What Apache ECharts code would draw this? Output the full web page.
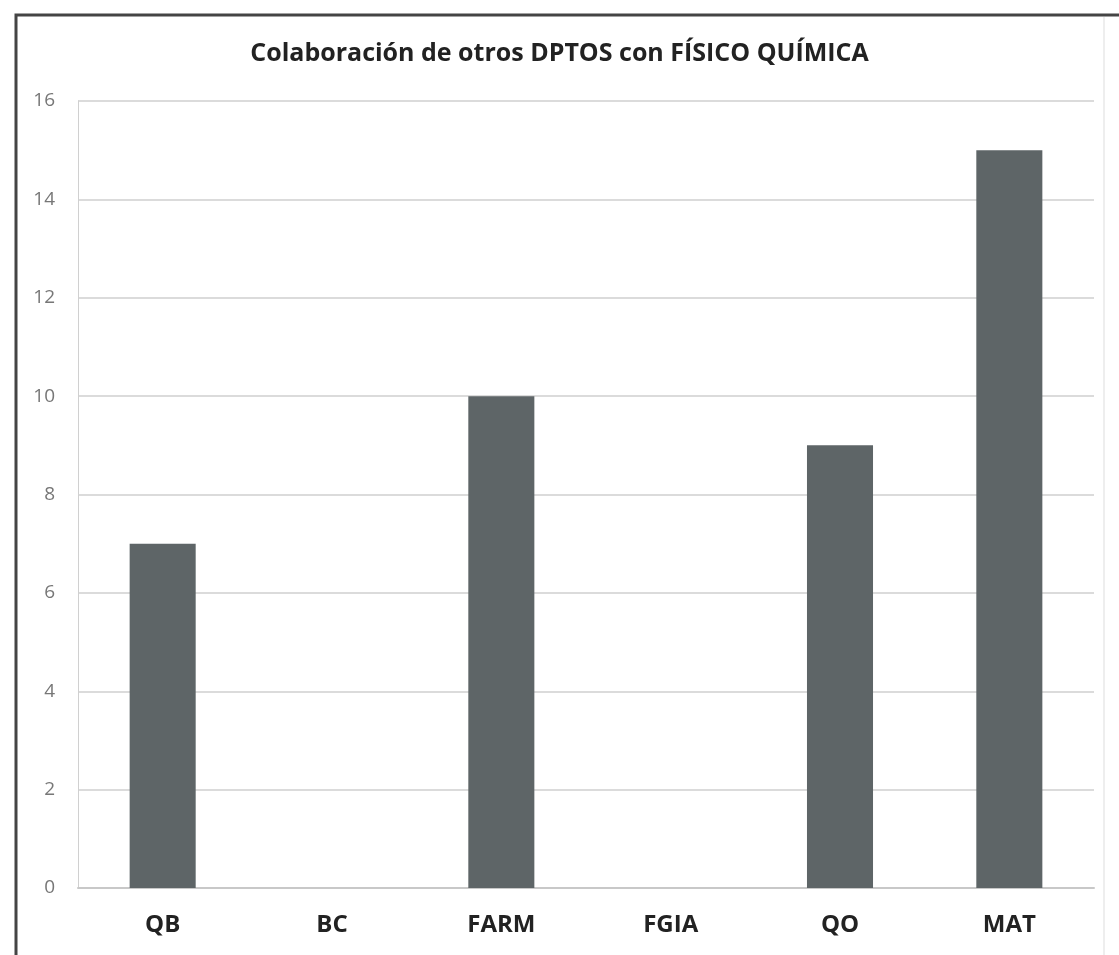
<!DOCTYPE html>
<html>
<head>
<meta charset="utf-8">
<script src="https://cdn.jsdelivr.net/npm/echarts@6/dist/echarts.min.js"></script>
<style>
  html, body { margin: 0; padding: 0; background: #fff; }
  #chart { width: 1119px; height: 955px; }
</style>
</head>
<body>
<div id="chart"></div>
<script>
// datos
var categorias = ['QB', 'BC', 'FARM', 'FGIA', 'QO', 'MAT'];
var colaboraciones = [7, 0, 10, 0, 9, 15];
var tituloTexto = 'Colaboración de otros DPTOS con FÍSICO QUÍMICA';

var grafico = echarts.init(document.getElementById('chart'));

var opcion = {
  backgroundColor: '#ffffff',
  animation: false,
  title: {
    text: tituloTexto,
    left: 'center',
    top: 36,
    textStyle: {
      color: '#222',
      fontFamily: 'Open Sans',
      fontWeight: 'bold',
      fontSize: 25
    }
  },
  // marco exterior
  graphic: [
    {
      type: 'polyline',
      shape: { points: [[16, 955], [16, 15], [1119, 15]] },
      style: { stroke: '#444', lineWidth: 3, fill: null }
    },
    {
      type: 'line',
      shape: { x1: 1104, y1: 17, x2: 1104, y2: 955 },
      style: { stroke: '#ddd', lineWidth: 1 }
    }
  ],
  grid: {
    left: 78,
    right: 25,
    top: 101,
    bottom: 67
  },
  xAxis: {
    type: 'category',
    data: categorias,
    axisTick: { show: false },
    axisLine: { lineStyle: { color: '#c8c8c8', width: 2 } },
    axisLabel: {
      margin: 25,
      color: '#222',
      fontFamily: 'Open Sans',
      fontWeight: 'bold',
      fontSize: 24
    }
  },
  yAxis: {
    type: 'value',
    min: 0,
    max: 16,
    interval: 2,
    axisLine: { show: true, lineStyle: { color: '#d0d0d0' } },
    axisTick: { show: false },
    axisLabel: {
      margin: 23,
      color: '#777',
      fontFamily: 'Open Sans',
      fontSize: 19
    },
    splitLine: { lineStyle: { color: '#cfcfcf', width: 1.5 } }
  },
  series: [{
    name: 'Colaboraciones',
    type: 'bar',
    data: colaboraciones,
    barWidth: '39%',
    itemStyle: { color: '#5e6567' }
  }]
};

grafico.setOption(opcion);
</script>
</body>
</html>
